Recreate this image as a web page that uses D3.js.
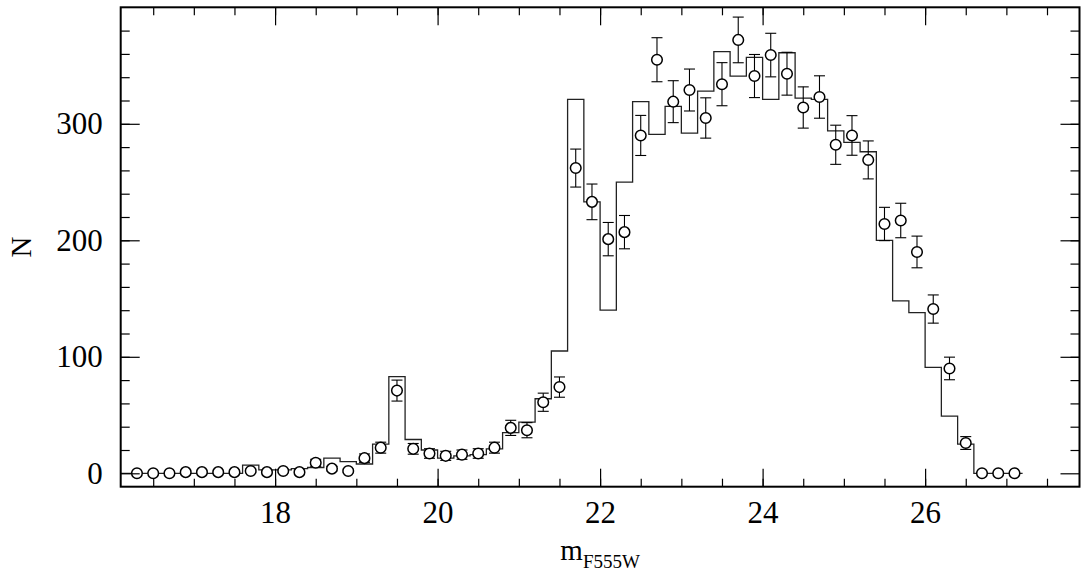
<!DOCTYPE html>
<meta charset="utf-8">
<style>
  body { margin: 0; background: #fff; }
  .tick text { font-family: "Liberation Serif", serif; font-size: 31px; fill: #000; }
  .tick line { stroke: #000; stroke-width: 1.2px; }
  .hist { fill: none; stroke: #222; stroke-width: 1.3px; }
  .pts circle { fill: #fff; stroke: #000; stroke-width: 1.5px; }
  .pts line { stroke: #000; stroke-width: 1.1px; }
</style>
<svg width="1081" height="578"></svg>
<script src="https://d3js.org/d3.v7.min.js"></script>
<script>
  // bin centres (mag), observed counts with errors, model histogram
  var mag = [16.3, 16.5, 16.7, 16.9, 17.1, 17.3, 17.5, 17.7, 17.9, 18.1,
    18.3, 18.5, 18.7, 18.9, 19.1, 19.3, 19.5, 19.7, 19.9, 20.1,
    20.3, 20.5, 20.7, 20.9, 21.1, 21.3, 21.5, 21.7, 21.9, 22.1,
    22.3, 22.5, 22.7, 22.9, 23.1, 23.3, 23.5, 23.7, 23.9, 24.1,
    24.3, 24.5, 24.7, 24.9, 25.1, 25.3, 25.5, 25.7, 25.9, 26.1,
    26.3, 26.5, 26.7, 26.9, 27.1];

  var obs = [0, 0, 0, 1, 1, 1, 1, 2, 1, 2,
    1, 9, 4, 2, 13, 22, 71, 21, 17, 15,
    16, 17, 22, 39, 37, 61, 74, 262, 233, 201,
    207, 290, 355, 319, 329, 305, 334, 372, 341, 359,
    343, 314, 323, 282, 290, 269, 214, 217, 190, 141,
    90, 26, 0, 0, 0];

  var obsErr = [0, 0, 0, 1, 1, 1, 1, 1.5, 1, 1.5,
    1, 3, 2, 1.5, 3.6, 4.7, 9, 4.6, 4.1, 3.9,
    4, 4.1, 4.7, 6.5, 6.5, 7.8, 8.7, 16.3, 15.3, 14.3,
    14.3, 17.2, 18.9, 18, 18, 17.3, 18.5, 19.6, 18.5, 18.7,
    18.4, 17.7, 18.2, 16.8, 17, 16.3, 14.3, 14.8, 13.6, 12.1,
    9.7, 5.5, 0, 0, 0];

  var histMag = [16.1].concat(mag);
  var model = [0, 0, 0, 0, 0, 0, 0, 0, 7, 3, 3,
    4, 5, 13, 10, 8, 25, 83, 29, 20, 13,
    15, 16, 21, 35, 44, 64, 105, 321, 233, 140,
    250, 319, 291, 315, 292, 328, 362, 341, 357, 321,
    361, 322, 321, 294, 284, 276, 200, 148, 138, 91,
    49, 25, 0, 0, 0];

  var xMajor = [18, 20, 22, 24, 26];
  var xMinor = d3.range(16.5, 27.6, 0.5);
  var yMajor = [0, 100, 200, 300];
  var yMinor = d3.range(20, 400, 20);
  var binWidth = 0.2;

  var svg = d3.select("svg");
  var pLeft = 120.7, pRight = 1079.5, pTop = 7.3, pBottom = 486.7;

  var x = d3.scaleLinear().domain([16.1, 27.9]).range([pLeft, pRight]);
  var y = d3.scaleLinear().domain([-11.5, 400]).range([pBottom, pTop]);

  svg.append("defs").append("clipPath").attr("id", "plot")
    .append("rect")
    .attr("x", pLeft).attr("y", pTop)
    .attr("width", pRight - pLeft).attr("height", pBottom - pTop);

  // histogram as a step line
  var steps = histMag.map(function(m, i) { return [m - binWidth / 2, model[i]]; });
  steps.push([histMag[histMag.length - 1] + binWidth / 2, model[model.length - 1]]);

  var line = d3.line()
    .x(function(d) { return x(d[0]); })
    .y(function(d) { return y(d[1]); })
    .curve(d3.curveStepAfter);

  svg.append("path")
    .attr("class", "hist")
    .attr("clip-path", "url(#plot)")
    .attr("d", line(steps));

  // observed points with error bars
  var pts = svg.append("g").attr("class", "pts")
    .selectAll("g")
    .data(mag.map(function(m, i) { return { m: m, n: obs[i], e: obsErr[i] }; }))
    .enter().append("g");

  pts.append("line")
    .attr("x1", function(d) { return x(d.m); })
    .attr("x2", function(d) { return x(d.m); })
    .attr("y1", function(d) { return y(d.n - d.e); })
    .attr("y2", function(d) { return y(d.n + d.e); });
  pts.append("line")
    .attr("x1", function(d) { return x(d.m) - 5.5; })
    .attr("x2", function(d) { return x(d.m) + 5.5; })
    .attr("y1", function(d) { return y(d.n + d.e); })
    .attr("y2", function(d) { return y(d.n + d.e); });
  pts.append("line")
    .attr("x1", function(d) { return x(d.m) - 5.5; })
    .attr("x2", function(d) { return x(d.m) + 5.5; })
    .attr("y1", function(d) { return y(d.n - d.e); })
    .attr("y2", function(d) { return y(d.n - d.e); });
  pts.append("circle")
    .attr("cx", function(d) { return x(d.m); })
    .attr("cy", function(d) { return y(d.n); })
    .attr("r", 5.3);

  // axes: ticks point inward on all four sides
  function addAxis(axis, tx, ty) {
    var g = svg.append("g")
      .attr("transform", "translate(" + tx + "," + ty + ")")
      .call(axis);
    g.select(".domain").remove();
    return g;
  }

  addAxis(d3.axisBottom(x).tickValues(xMinor).tickSize(-8).tickFormat(""), 0, pBottom);
  addAxis(d3.axisBottom(x).tickValues(xMajor).tickSize(-18).tickPadding(14).tickFormat(d3.format("d")), 0, pBottom);
  addAxis(d3.axisTop(x).tickValues(xMinor).tickSize(-8).tickFormat(""), 0, pTop);
  addAxis(d3.axisTop(x).tickValues(xMajor).tickSize(-18).tickFormat(""), 0, pTop);
  addAxis(d3.axisLeft(y).tickValues(yMinor).tickSize(-9).tickFormat(""), pLeft, 0);
  addAxis(d3.axisLeft(y).tickValues(yMajor).tickSize(-19).tickPadding(18).tickFormat(d3.format("d")), pLeft, 0);
  addAxis(d3.axisRight(y).tickValues(yMinor).tickSize(-9).tickFormat(""), pRight, 0);
  addAxis(d3.axisRight(y).tickValues(yMajor).tickSize(-19).tickFormat(""), pRight, 0);

  svg.append("rect")
    .attr("x", pLeft).attr("y", pTop)
    .attr("width", pRight - pLeft).attr("height", pBottom - pTop)
    .attr("fill", "none").attr("stroke", "#000").attr("stroke-width", 2);

  // axis titles
  var xt = svg.append("text")
    .attr("x", (pLeft + pRight) / 2)
    .attr("y", 560)
    .attr("text-anchor", "middle")
    .style("font-family", "Liberation Serif, serif");
  xt.append("tspan").style("font-size", "29px").text("m");
  xt.append("tspan").style("font-size", "19px").attr("dy", 8).text("F555W");

  svg.append("text")
    .attr("transform", "translate(31," + (pTop + pBottom) / 2 + ") rotate(-90)")
    .attr("text-anchor", "middle")
    .style("font-family", "Liberation Serif, serif")
    .style("font-size", "29px")
    .text("N");
</script>
